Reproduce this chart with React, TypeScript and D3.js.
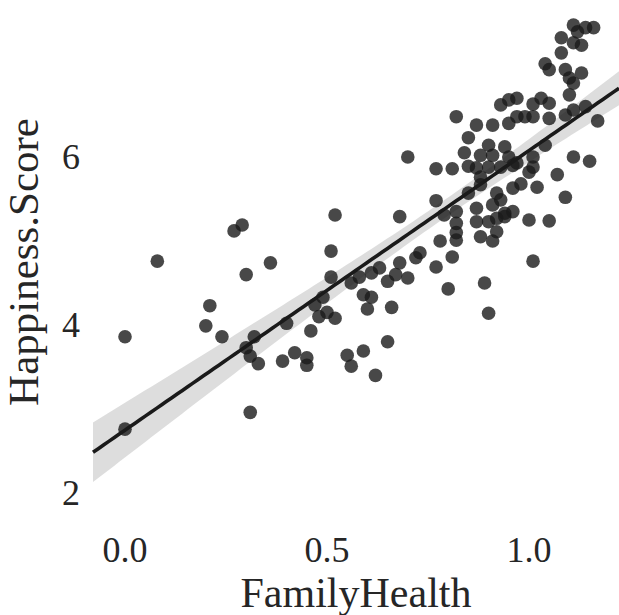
import React, { useEffect, useRef } from 'react';
import * as d3 from 'd3';

// values
const familyHealth = [
  0.00, 0.00, 0.08, 0.20, 0.21, 0.24, 0.27, 0.29, 0.30, 0.30,
  0.31, 0.33, 0.31, 0.32, 0.36, 0.40, 0.39, 0.42, 0.45, 0.45,
  0.46, 0.47, 0.48, 0.50, 0.52, 0.49, 0.51, 0.51, 0.52, 0.55,
  0.56, 0.59, 0.62, 0.56, 0.58, 0.59, 0.61, 0.60, 0.61, 0.63,
  0.65, 0.67, 0.70, 0.66, 0.65, 0.68, 0.68, 0.72, 0.73, 0.77,
  0.81, 0.80, 0.89, 0.90, 1.01, 0.78, 0.70, 0.77, 0.81, 0.77,
  0.79, 0.82, 0.82, 0.82, 0.87, 0.91, 0.93, 0.94, 0.96, 0.87,
  0.90, 0.92, 0.94, 0.88, 0.91, 0.92, 0.82, 0.87, 0.91, 0.85,
  0.90, 0.94, 0.84, 0.88, 0.91, 0.95, 0.97, 0.85, 0.87, 0.90,
  0.93, 0.96, 0.88, 0.88, 0.85, 0.92, 0.96, 0.98, 1.02, 1.01,
  1.00, 1.01, 1.04, 1.07, 1.09, 1.11, 1.15, 1.00, 1.05, 0.93,
  0.95, 0.97, 1.01, 1.03, 1.05, 0.95, 0.97, 0.99, 1.01, 1.05,
  1.09, 1.11, 1.14, 1.17, 1.10, 1.09, 1.13, 1.10, 1.11, 1.04,
  1.05, 1.08, 1.08, 1.11, 1.13, 1.11, 1.12, 1.14, 1.16, 0.82
];
const happinessScore = [
  3.86, 2.76, 4.76, 3.99, 4.23, 3.86, 5.12, 5.19, 4.60, 3.73,
  3.63, 3.54, 2.96, 3.86, 4.74, 4.02, 3.57, 3.67, 3.61, 3.52,
  3.93, 4.24, 4.10, 4.15, 4.08, 4.33, 4.88, 4.57, 5.31, 3.64,
  3.51, 3.69, 3.40, 4.50, 4.57, 4.36, 4.33, 4.19, 4.62, 4.68,
  4.52, 4.60, 4.56, 4.21, 3.80, 4.74, 5.29, 4.80, 4.86, 4.69,
  4.81, 4.43, 4.50, 4.14, 4.76, 5.00, 6.00, 5.86, 5.86, 5.48,
  5.31, 5.35, 5.21, 5.10, 5.39, 5.43, 5.49, 5.33, 5.35, 5.23,
  5.23, 5.27, 5.29, 5.05, 5.00, 5.11, 6.48, 6.38, 6.38, 6.23,
  6.14, 6.12, 6.05, 6.02, 6.02, 6.00, 5.93, 5.89, 5.87, 5.88,
  5.88, 5.90, 5.76, 5.67, 5.57, 5.57, 5.63, 5.68, 5.64, 5.88,
  5.82, 6.00, 6.14, 5.79, 5.52, 6.00, 5.95, 5.25, 5.24, 6.62,
  6.68, 6.70, 6.63, 6.70, 6.64, 6.40, 6.48, 6.48, 6.48, 6.46,
  6.50, 6.56, 6.60, 6.43, 6.74, 7.04, 7.00, 6.94, 6.88, 7.11,
  7.04, 7.42, 7.24, 7.36, 7.33, 7.57, 7.49, 7.54, 7.54, 5.01
];
const xTicks = [0.0, 0.5, 1.0];
const yTicks = [2, 4, 6];

const width = 619;
const height = 615;
const font = '"Liberation Serif", "Times New Roman", serif';
const ink = '#1a1a1a';

function App() {
  const ref = useRef(null);

  useEffect(() => {
    const svg = d3.select(ref.current);
    svg.selectAll('*').remove();

    const x = d3.scaleLinear().domain([0, 1]).range([125, 529]);
    const y = d3.scaleLinear().domain([2, 6]).range([493, 157]);
    const xMin = x.invert(93);
    const xMax = x.invert(width);

    // ordinary least squares, with a 95% band for the mean
    const n = familyHealth.length;
    const mx = d3.mean(familyHealth);
    const my = d3.mean(happinessScore);
    let sxx = 0;
    let sxy = 0;
    familyHealth.forEach((v, i) => {
      sxx += (v - mx) * (v - mx);
      sxy += (v - mx) * (happinessScore[i] - my);
    });
    const slope = sxy / sxx;
    const icept = my - slope * mx;
    let sse = 0;
    familyHealth.forEach((v, i) => {
      const r = happinessScore[i] - (icept + slope * v);
      sse += r * r;
    });
    const s = Math.sqrt(sse / (n - 2));
    const grid = d3.range(0, 101).map((i) => xMin + (xMax - xMin) * i / 100);
    const fit = grid.map((g) => {
      const yhat = icept + slope * g;
      const se = s * Math.sqrt(1 / n + (g - mx) * (g - mx) / sxx) * 1.98;
      return { g, yhat, lo: yhat - se, hi: yhat + se };
    });

    svg
      .selectAll('circle')
      .data(familyHealth)
      .enter()
      .append('circle')
      .attr('cx', (d) => x(d))
      .attr('cy', (d, i) => y(happinessScore[i]))
      .attr('r', 6.8)
      .attr('fill', ink)
      .attr('fill-opacity', 0.8);

    const band = d3
      .area()
      .x((d) => x(d.g))
      .y0((d) => y(d.lo))
      .y1((d) => y(d.hi));
    svg
      .append('path')
      .datum(fit)
      .attr('d', band)
      .attr('fill', ink)
      .attr('fill-opacity', 0.15);

    const line = d3
      .line()
      .x((d) => x(d.g))
      .y((d) => y(d.yhat));
    svg
      .append('path')
      .datum(fit)
      .attr('d', line)
      .attr('fill', 'none')
      .attr('stroke', ink)
      .attr('stroke-width', 3.6);

    svg
      .selectAll('.xtick')
      .data(xTicks)
      .enter()
      .append('text')
      .attr('class', 'xtick')
      .attr('x', (d) => x(d))
      .attr('y', 562)
      .attr('text-anchor', 'middle')
      .attr('font-family', font)
      .attr('font-size', 36)
      .attr('fill', '#262626')
      .text((d) => d.toFixed(1));

    svg
      .selectAll('.ytick')
      .data(yTicks)
      .enter()
      .append('text')
      .attr('class', 'ytick')
      .attr('x', 80)
      .attr('y', (d) => y(d))
      .attr('dy', '0.34em')
      .attr('text-anchor', 'end')
      .attr('font-family', font)
      .attr('font-size', 36)
      .attr('fill', '#262626')
      .text((d) => d);

    svg
      .append('text')
      .attr('x', 356)
      .attr('y', 607)
      .attr('text-anchor', 'middle')
      .attr('font-family', font)
      .attr('font-size', 42)
      .attr('fill', '#262626')
      .text('FamilyHealth');

    svg
      .append('text')
      .attr('transform', 'translate(38,262) rotate(-90)')
      .attr('text-anchor', 'middle')
      .attr('font-family', font)
      .attr('font-size', 43)
      .attr('fill', '#262626')
      .text('Happiness.Score');
  }, []);

  return (
    <svg
      ref={ref}
      width={width}
      height={height}
      style={{ position: 'absolute', left: 0, top: 0, background: '#fff' }}
    />
  );
}

export default App;
